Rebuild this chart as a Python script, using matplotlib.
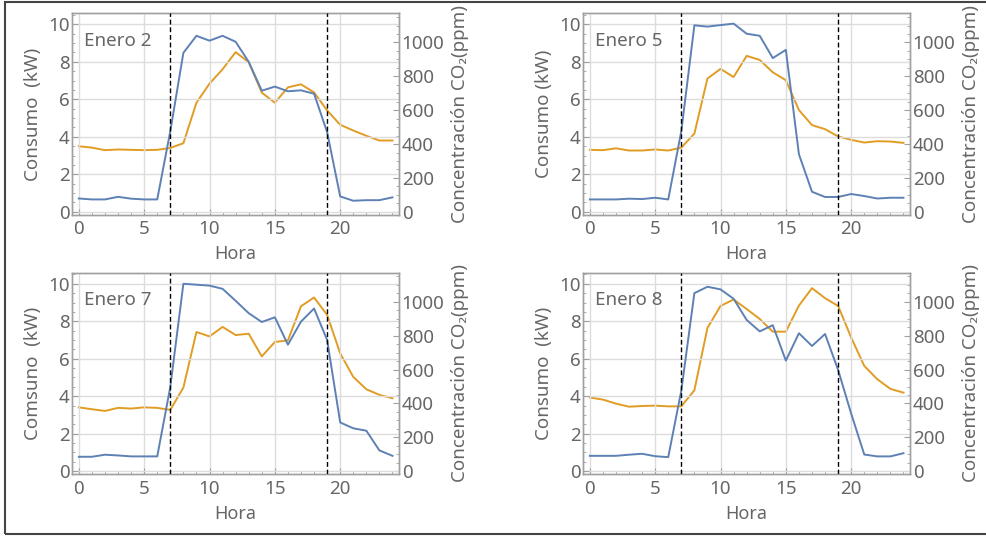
import matplotlib
matplotlib.use("Agg")
import matplotlib.pyplot as plt
from matplotlib.patches import Rectangle
from matplotlib.ticker import MultipleLocator
import numpy as np

plt.rcParams['font.family'] = ['Noto Sans', 'DejaVu Sans']

hours = list(range(25))

titles = ["Enero 2", "Enero 5", "Enero 7", "Enero 8"]
ylabels = ["Consumo  (kW)", "Consumo (kW)", "Comsuno  (kW)", "Consumo  (kW)"]

consumo_e2 = [0.71, 0.66, 0.66, 0.80, 0.70, 0.66, 0.66, 4.3, 8.48, 9.39, 9.13, 9.39, 9.07,
              8.0, 6.46, 6.68, 6.43, 6.48, 6.30, 4.25, 0.82, 0.59, 0.62, 0.62, 0.77]
co2_e2 = [387, 379, 364, 368, 366, 364, 366, 377, 405, 644, 757, 842, 943,
          883, 704, 644, 735, 753, 705, 599, 514, 480, 449, 421, 421]

consumo_e5 = [0.66, 0.66, 0.66, 0.70, 0.68, 0.75, 0.66, 4.3, 9.95, 9.88, 9.96, 10.04, 9.5,
              9.39, 8.2, 8.64, 3.07, 1.07, 0.79, 0.79, 0.95, 0.84, 0.71, 0.75, 0.75]
co2_e5 = [366, 364, 375, 362, 362, 368, 362, 379, 462, 787, 844, 796, 921,
          897, 824, 777, 601, 512, 488, 445, 425, 409, 417, 415, 407]

consumo_e7 = [0.77, 0.77, 0.88, 0.84, 0.79, 0.79, 0.79, 4.5, 10.0, 9.95, 9.9, 9.73, 9.09,
              8.43, 7.96, 8.21, 6.75, 7.98, 8.68, 7.0, 2.6, 2.29, 2.16, 1.11, 0.82]
co2_e7 = [377, 366, 356, 374, 370, 377, 374, 362, 494, 822, 796, 852, 804,
          812, 678, 763, 773, 974, 1026, 923, 696, 557, 484, 451, 431]

consumo_e8 = [0.82, 0.82, 0.82, 0.88, 0.93, 0.80, 0.75, 4.3, 9.5, 9.84, 9.7, 9.2, 8.07,
              7.46, 7.79, 5.9, 7.36, 6.68, 7.32, 5.4, 3.07, 0.89, 0.79, 0.79, 0.96]
co2_e8 = [435, 423, 399, 381, 385, 387, 383, 383, 478, 846, 976, 1014, 958,
          899, 824, 824, 978, 1081, 1022, 976, 789, 622, 543, 486, 464]

consumos = [consumo_e2, consumo_e5, consumo_e7, consumo_e8]
co2s = [co2_e2, co2_e5, co2_e7, co2_e8]
turno = [7, 19]

W, H = 987, 536
fig = plt.figure(figsize=(W / 100, H / 100), dpi=100)
fig.patch.set_facecolor('white')

# outer frame
fig.add_artist(Rectangle((5.5 / W, 2 / H), 1.2, (534 - 2) / H, transform=fig.transFigure,
                         fill=False, edgecolor='#444444', linewidth=1.5))

lefts = [72.3, 583.3]
tops = [13.3, 272.7]
pw, ph = 326.7, 201.5

blue = '#5E81B5'
orange = '#E19C24'
txt = '#666666'
grid_c = '#DCDCDC'
spine_c = '#A0A0A0'
fs = 13.5

for i in range(4):
    r, c = divmod(i, 2)
    l = lefts[c] / W
    b = (H - tops[r] - ph) / H
    ax = fig.add_axes([l, b, pw / W, ph / H])
    ax2 = ax.twinx()
    ax.set_zorder(ax2.get_zorder() + 1)
    ax.patch.set_visible(False)

    ax.set_xlim(-0.5, 24.5)
    ax.set_ylim(-0.16, 10.59)
    ax2.set_ylim(-0.16 * 110.7, 10.59 * 110.7)

    ax.grid(True, which='major', color=grid_c, linewidth=1.0)
    ax.set_axisbelow(True)
    ax.xaxis.set_major_locator(MultipleLocator(5))
    ax.xaxis.set_minor_locator(MultipleLocator(1))
    ax.yaxis.set_major_locator(MultipleLocator(2))
    ax.yaxis.set_minor_locator(MultipleLocator(0.5))
    ax2.yaxis.set_major_locator(MultipleLocator(200))
    ax2.yaxis.set_minor_locator(MultipleLocator(50))

    for a in (ax, ax2):
        for s in a.spines.values():
            s.set_color(spine_c)
            s.set_linewidth(1.0)
        a.tick_params(which='both', direction='in', color=spine_c, labelcolor=txt,
                      labelsize=fs, pad=2)
        a.tick_params(which='major', length=4)
        a.tick_params(which='minor', length=2)
    ax.tick_params(axis='x', pad=4)
    ax.tick_params(axis='y', which='both', right=False)
    ax.tick_params(axis='x', which='both', top=False)
    ax2.tick_params(axis='x', which='both', top=False, bottom=False)

    ax2.plot(hours, co2s[i], color=orange, linewidth=1.4, zorder=3)
    ax.plot(hours, consumos[i], color=blue, linewidth=1.4, zorder=4)
    for t in turno:
        ax.axvline(t, color='black', linewidth=1.0, linestyle=(0, (3.5, 2)), zorder=5)

    ax.text(0.036, 0.865, titles[i], transform=ax.transAxes, fontsize=fs, color=txt,
            va='center', ha='left')
    ax.set_xlabel('Hora', fontsize=13, color=txt, labelpad=5)
    ax.set_ylabel(ylabels[i], fontsize=fs, color=txt, labelpad=4)
    ax2.set_ylabel('Concentración CO₂(ppm)', fontsize=fs, color=txt, labelpad=5)

fig.savefig('out.png', dpi=100)
